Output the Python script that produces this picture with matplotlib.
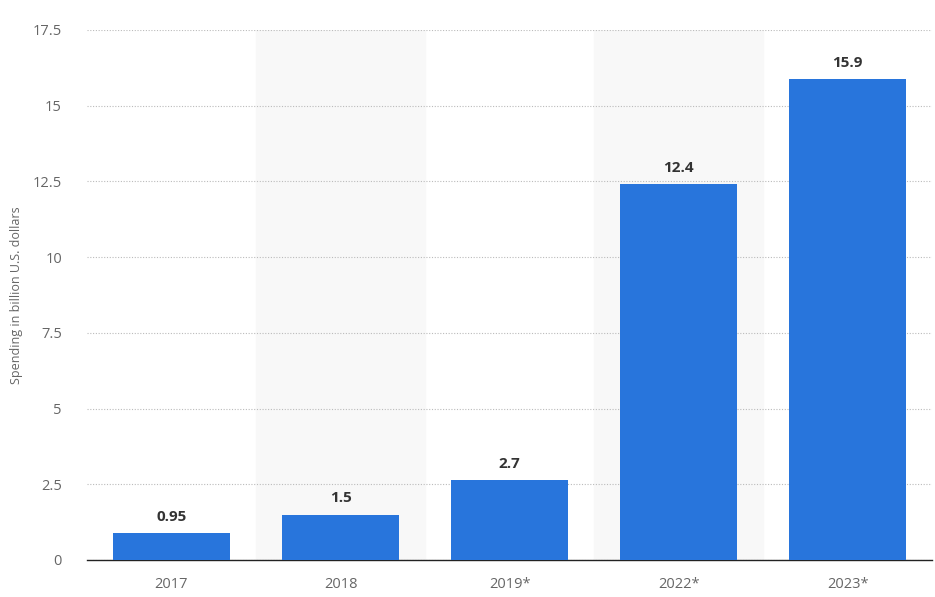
import numpy as np
import matplotlib.pyplot as plt

years = ['2017', '2018', '2019*', '2022*', '2023*']
spending = [0.9, 1.5, 2.65, 12.4, 15.87]
value_labels = ['0.95', '1.5', '2.7', '12.4', '15.9']

plt.rcParams['font.family'] = ['Open Sans', 'DejaVu Sans']

fig = plt.figure(figsize=(9.35, 5.97), dpi=100)
ax = fig.add_axes([0.093, 0.062, 0.904, 0.888])

x = np.arange(len(years))

# alternate shaded columns
for i in x:
    if i % 2 == 1:
        ax.axvspan(i - 0.5, i + 0.5, color='#f8f8f8', zorder=0)

ax.bar(x, spending, width=0.69, color='#2875dc', zorder=3)

for xi, v, lab in zip(x, spending, value_labels):
    ax.text(xi, v + 0.3, lab, ha='center', va='bottom', fontsize=11,
            fontweight='bold', color='#333333', zorder=4)

ax.set_xlim(-0.5, len(years) - 0.5)
ax.set_ylim(0, 17.5)
ax.set_yticks(np.arange(0, 17.6, 2.5))
ax.set_yticklabels(['0', '2.5', '5', '7.5', '10', '12.5', '15', '17.5'])
ax.set_xticks(x)
ax.set_xticklabels(years)

ax.grid(axis='y', linestyle=(0, (1, 1.5)), color='#bbbbbb', linewidth=0.8, zorder=1)
ax.set_axisbelow(True)

for s in ['top', 'right', 'left']:
    ax.spines[s].set_visible(False)
ax.spines['bottom'].set_color('#222222')
ax.spines['bottom'].set_linewidth(1.0)

ax.tick_params(axis='y', length=0, labelsize=10.5, labelcolor='#666666', pad=18)
ax.tick_params(axis='x', length=0, labelsize=10.5, labelcolor='#666666', pad=12)

ax.set_ylabel('Spending in billion U.S. dollars', fontsize=9, color='#666666')
ax.yaxis.set_label_coords(-0.076, 0.5)

fig.savefig('out.png', dpi=100)
